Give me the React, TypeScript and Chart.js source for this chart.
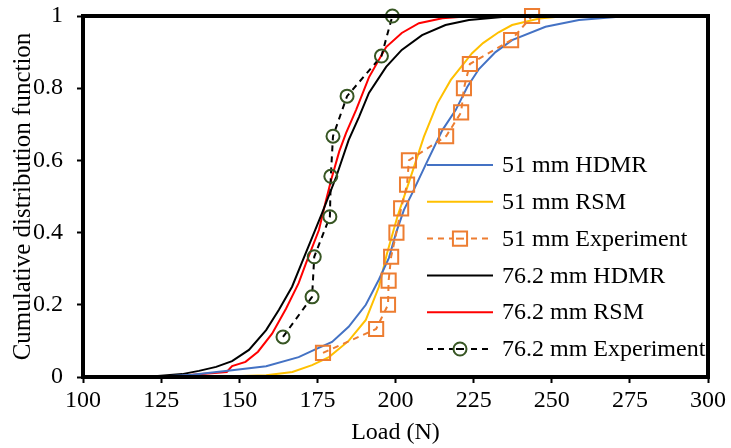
import React, { useEffect, useRef } from "react";
import { Chart, registerables } from "chart.js";

Chart.register(...registerables);

// ---- data ----
const xTicks = [100, 125, 150, 175, 200, 225, 250, 275, 300];
const yTicks = [0, 0.2, 0.4, 0.6, 0.8, 1];

const x51Hdmr = [122, 135, 147.7, 158.6, 169, 174, 179.7, 185, 190.5, 194.7, 197.9, 200.2, 202.7, 205.4, 209.7, 215, 219.3, 223, 226.7, 232, 237.3, 248, 258.7, 270.5, 284.3];
const y51Hdmr = [0, 0.006, 0.019, 0.03, 0.055, 0.075, 0.097, 0.139, 0.2, 0.27, 0.33, 0.4, 0.463, 0.51, 0.589, 0.684, 0.74, 0.804, 0.853, 0.9, 0.933, 0.97, 0.989, 0.997, 1];

const x51Rsm = [140, 158.6, 167, 173.3, 178.7, 185, 190.5, 194.7, 197.3, 200.6, 204.9, 209.1, 213.4, 217.7, 221.9, 224.5, 228, 233, 237.3, 246, 252, 261];
const y51Rsm = [0, 0.005, 0.014, 0.033, 0.055, 0.1, 0.158, 0.25, 0.343, 0.444, 0.555, 0.666, 0.758, 0.823, 0.869, 0.897, 0.925, 0.955, 0.975, 0.993, 0.998, 1];

const x51Exp = [176.8, 193.8, 197.6, 197.8, 198.6, 200.3, 201.8, 203.7, 204.3, 216.2, 221, 221.9, 223.8, 237, 243.7];
const y51Exp = [0.067, 0.133, 0.2, 0.267, 0.333, 0.4, 0.467, 0.533, 0.6, 0.667, 0.733, 0.8, 0.867, 0.933, 1];

const x76Hdmr = [120, 131.7, 137.1, 142.6, 147.7, 153.1, 158.6, 162.7, 166.9, 170, 173.5, 176.5, 181, 185, 188.3, 191.5, 197, 202, 208.5, 216, 223.5, 235, 250];
const y76Hdmr = [0, 0.008, 0.017, 0.028, 0.044, 0.075, 0.13, 0.186, 0.25, 0.316, 0.39, 0.454, 0.554, 0.656, 0.72, 0.787, 0.859, 0.906, 0.947, 0.975, 0.989, 0.998, 1];

const x76Rsm = [110.5, 130, 146, 147.7, 152, 156, 160.5, 165, 169, 171.4, 175.5, 177.5, 179.4, 182, 184.2, 187.4, 191.5, 197, 202, 207.5, 215, 223.5, 235.7];
const y76Rsm = [0, 0.003, 0.014, 0.03, 0.042, 0.07, 0.12, 0.19, 0.26, 0.316, 0.407, 0.48, 0.546, 0.625, 0.676, 0.74, 0.83, 0.914, 0.953, 0.98, 0.994, 0.999, 1];

const x76Exp = [164, 173.3, 174, 179, 179.3, 180, 184.5, 195.5, 199];
const y76Exp = [0.111, 0.222, 0.333, 0.444, 0.556, 0.667, 0.778, 0.889, 1];

const seriesLabels = [
  "51 mm HDMR",
  "51 mm RSM",
  "51 mm Experiment",
  "76.2 mm HDMR",
  "76.2 mm RSM",
  "76.2 mm Experiment",
];

const FONT = "'Liberation Serif', 'Times New Roman', serif";

const zip = (xs: number[], ys: number[]) => xs.map((x, i) => ({ x, y: ys[i] }));

const overlayPlugin = {
  id: "overlayFrameLegend",
  afterDraw(chart: any) {
    const { ctx, chartArea } = chart;
    // plot frame
    ctx.save();
    ctx.setLineDash([]);
    ctx.strokeStyle = "#000000";
    ctx.lineWidth = 4;
    ctx.beginPath();
    ctx.moveTo(chartArea.left, chartArea.top);
    ctx.lineTo(chartArea.right, chartArea.top);
    ctx.lineTo(chartArea.right, chartArea.bottom);
    ctx.lineTo(chartArea.left, chartArea.bottom);
    ctx.closePath();
    ctx.stroke();
    ctx.restore();

    // legend
    const x0 = chartArea.left + 344;
    const y0 = chartArea.top + 149;
    const step = 36.8;
    const lineLen = 66;
    ctx.save();
    chart.data.datasets.forEach((ds: any, i: number) => {
      const y = y0 + i * step;
      ctx.beginPath();
      ctx.setLineDash(ds.borderDash || []);
      ctx.strokeStyle = ds.borderColor;
      ctx.lineWidth = ds.borderWidth;
      ctx.moveTo(x0, y);
      ctx.lineTo(x0 + lineLen, y);
      ctx.stroke();
      ctx.setLineDash([]);
      const cx = x0 + lineLen / 2;
      if (ds.pointRadius > 0) {
        ctx.beginPath();
        ctx.strokeStyle = ds.pointBorderColor;
        ctx.lineWidth = ds.pointBorderWidth;
        ctx.fillStyle = "#fff";
        if (ds.pointStyle === "rect") {
          const h = ds.pointRadius * Math.SQRT1_2;
          ctx.rect(cx - h, y - h, 2 * h, 2 * h);
        } else {
          ctx.arc(cx, y, ds.pointRadius, 0, Math.PI * 2);
        }
        ctx.fill();
        ctx.stroke();
        ctx.beginPath();
        ctx.strokeStyle = ds.borderColor;
        ctx.lineWidth = ds.borderWidth;
        ctx.moveTo(cx - 4, y);
        ctx.lineTo(cx + 4, y);
        ctx.stroke();
      }
      ctx.fillStyle = "#000";
      ctx.font = `24px ${FONT}`;
      ctx.textAlign = "left";
      ctx.textBaseline = "middle";
      ctx.fillText(ds.label, x0 + lineLen + 9, y + 1);
    });
    ctx.restore();
  },
};

export default function App() {
  const ref = useRef<HTMLCanvasElement | null>(null);

  useEffect(() => {
    document.body.style.margin = "0";
    if (!ref.current) return;
    const curve = (label: string, xs: number[], ys: number[], color: string) => ({
      label,
      data: zip(xs, ys),
      showLine: true,
      borderColor: color,
      backgroundColor: color,
      borderWidth: 2,
      pointRadius: 0,
      pointHoverRadius: 0,
      tension: 0,
      order: 2,
    });
    const exp = (label: string, xs: number[], ys: number[], lineColor: string, ptColor: string, style: string, r: number) => ({
      label,
      data: zip(xs, ys),
      showLine: true,
      borderColor: lineColor,
      backgroundColor: "rgba(0,0,0,0)",
      borderWidth: 2,
      borderDash: [6, 5],
      pointStyle: style,
      pointRadius: r,
      pointBorderColor: ptColor,
      pointBackgroundColor: "rgba(0,0,0,0)",
      pointBorderWidth: 2,
      tension: 0,
      order: 1,
      clip: false,
    });
    const chart = new Chart(ref.current, {
      type: "scatter",
      data: {
        datasets: [
          curve(seriesLabels[0], x51Hdmr, y51Hdmr, "#4472C4"),
          curve(seriesLabels[1], x51Rsm, y51Rsm, "#FFC000"),
          exp(seriesLabels[2], x51Exp, y51Exp, "#ED7D31", "#ED7D31", "rect", 10),
          curve(seriesLabels[3], x76Hdmr, y76Hdmr, "#000000"),
          curve(seriesLabels[4], x76Rsm, y76Rsm, "#FF0000"),
          exp(seriesLabels[5], x76Exp, y76Exp, "#000000", "#375623", "circle", 6.5),
        ] as any,
      },
      options: {
        animation: false,
        responsive: false,
        events: [],
        layout: { padding: { left: 0, right: 23, top: 16, bottom: 0 } },
        plugins: {
          legend: { display: false },
          tooltip: { enabled: false },
        },
        scales: {
          x: {
            type: "linear",
            min: 100,
            max: 300,
            afterFit: (s: any) => {
              s.height = 71;
              s.paddingLeft = 0;
              s.paddingRight = 0;
            },
            afterBuildTicks: (s: any) => {
              s.ticks = xTicks.map((v) => ({ value: v }));
            },
            border: { display: true, color: "#000", width: 3 },
            grid: { display: true, drawOnChartArea: false, drawTicks: true, tickLength: 6, tickWidth: 2, color: "#000" },
            ticks: { color: "#000", padding: 3, font: { family: FONT, size: 24 }, maxRotation: 0, autoSkip: false },
            title: { display: true, text: "Load (N)", color: "#000", font: { family: FONT, size: 24 }, padding: { top: 0, bottom: 1 } },
          },
          y: {
            type: "linear",
            min: 0,
            max: 1,
            afterFit: (s: any) => {
              s.width = 83;
              s.paddingTop = 0;
              s.paddingBottom = 0;
            },
            afterBuildTicks: (s: any) => {
              s.ticks = yTicks.map((v) => ({ value: v }));
            },
            border: { display: true, color: "#000", width: 3 },
            grid: { display: true, drawOnChartArea: false, drawTicks: true, tickLength: 6, tickWidth: 2, color: "#000" },
            ticks: {
              color: "#000",
              padding: 14,
              font: { family: FONT, size: 24 },
              autoSkip: false,
              callback: (v: any) => String(Math.round(Number(v) * 10) / 10),
            },
            title: {
              display: true,
              text: "Cumulative distribution function",
              color: "#000",
              font: { family: FONT, size: 25 },
              padding: { top: 8, bottom: 0 },
            },
          },
        },
      } as any,
      plugins: [overlayPlugin],
    });
    return () => chart.destroy();
  }, []);

  return (
    <div style={{ position: "absolute", left: 0, top: 0, width: 731, height: 448, background: "#fff" }}>
      <canvas ref={ref} width={731} height={448} style={{ display: "block" }} />
    </div>
  );
}
